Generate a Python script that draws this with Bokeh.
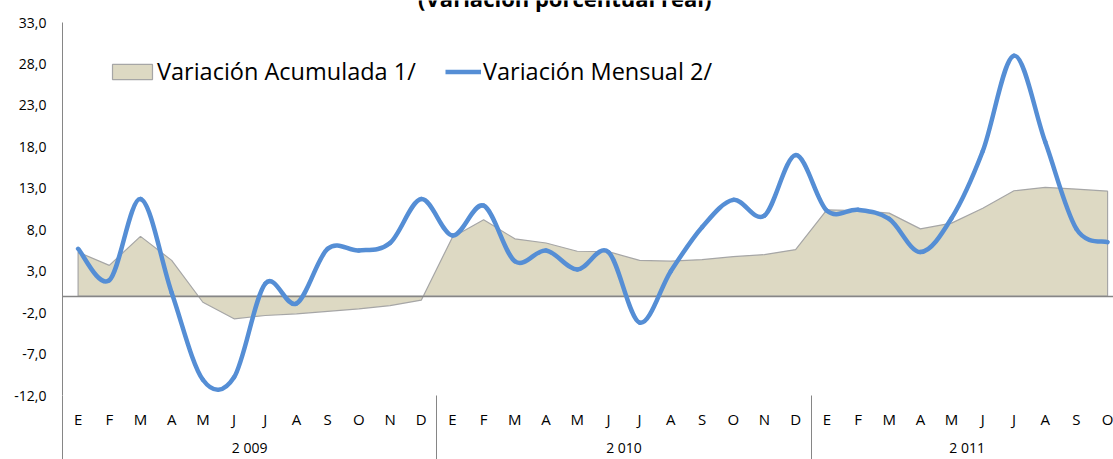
import numpy as np
from bokeh.plotting import figure
from bokeh.models import (Range1d, LinearAxis, FixedTicker, Legend, LegendItem, Label)
from bokeh.embed import file_html
from bokeh.resources import INLINE

title_text = "(Variación porcentual real)"
series_names = ["Variación Acumulada 1/", "Variación Mensual 2/"]
months = ["E", "F", "M", "A", "M", "J", "J", "A", "S", "O", "N", "D",
          "E", "F", "M", "A", "M", "J", "J", "A", "S", "O", "N", "D",
          "E", "F", "M", "A", "M", "J", "J", "A", "S", "O"]
years = ["2 009", "2 010", "2 011"]
months_per_year = [12, 12, 10]
acumulada = [5.3, 3.7, 7.2, 4.3, -0.75, -2.75, -2.35, -2.15, -1.85, -1.55, -1.15, -0.5,
             7.1, 9.2, 6.9, 6.4, 5.4, 5.35, 4.3, 4.2, 4.4, 4.75, 5.0, 5.6,
             10.4, 10.3, 10.0, 8.1, 8.8, 10.6, 12.7, 13.1, 12.9, 12.65]
mensual = [5.7, 1.9, 11.7, 0.4, -10.1, -9.8, 1.5, -0.9, 5.7, 5.5, 6.4, 11.7,
           7.3, 10.9, 4.2, 5.5, 3.2, 5.3, -3.2, 3.0, 8.3, 11.6, 9.7, 17.0,
           10.3, 10.4, 9.3, 5.3, 9.4, 17.5, 29.0, 18.6, 8.1, 6.5]
y_ticks = [-12, -7, -2, 3, 8, 13, 18, 23, 28, 33]

FONT = "Open Sans"
AXIS_GRAY = "#868686"
BLUE = "#558ED5"
TAN = "#DDD9C3"
OUTLINE = "#A6A6A6"

# layout (pixels): the frame runs up to the top of the canvas, the y axis from 33 to -12
H, W = 459, 1113
BOTTOM = 64
TOP_GAP = 22            # pixels between canvas top and the 33 level
px_per_unit = (H - BOTTOM - TOP_GAP) / (y_ticks[-1] - y_ticks[0])
y_top = y_ticks[-1] + TOP_GAP / px_per_unit

n = len(months)
x = np.arange(n, dtype=float)

p = figure(width=W, height=H, output_backend="svg", toolbar_location=None,
           x_range=Range1d(-0.5, 33.19), y_range=Range1d(y_ticks[0], y_top),
           x_axis_type=None, y_axis_type=None,
           min_border_left=62, min_border_right=0, min_border_top=0, min_border_bottom=BOTTOM)
p.outline_line_color = None
p.grid.visible = False
p.background_fill_color = "white"
p.border_fill_color = "white"

# y axis
yaxis = LinearAxis(ticker=FixedTicker(ticks=y_ticks, minor_ticks=[]),
                   bounds=(y_ticks[0], y_ticks[-1]))
yaxis.major_label_overrides = {v: f"{v:.1f}".replace(".", ",") for v in y_ticks}
yaxis.axis_line_color = AXIS_GRAY
yaxis.major_tick_line_color = None
yaxis.minor_tick_line_color = None
yaxis.major_tick_out = 0
yaxis.major_tick_in = 0
yaxis.major_label_standoff = 16
yaxis.major_label_text_font = FONT
yaxis.major_label_text_font_size = "14px"
yaxis.major_label_text_color = "black"
p.add_layout(yaxis, "left")

# year grouping (separators at year boundaries)
starts = np.concatenate([[0], np.cumsum(months_per_year)[:-1]])
centers = [float(s + (c - 1) / 2) for s, c in zip(starts, months_per_year)]
bounds = [float(s - 0.5) for s in starts]

# month axis, carrying the year separators as long minor ticks
month_axis = LinearAxis(ticker=FixedTicker(ticks=list(x), minor_ticks=bounds))
month_axis.major_label_overrides = {int(i): m for i, m in enumerate(months)}
month_axis.axis_line_color = None
month_axis.major_tick_line_color = None
month_axis.major_tick_out = 0
month_axis.major_tick_in = 0
month_axis.minor_tick_line_color = AXIS_GRAY
month_axis.minor_tick_line_width = 1
month_axis.minor_tick_in = 0
month_axis.minor_tick_out = 64
month_axis.major_label_standoff = -51
month_axis.major_label_text_font = FONT
month_axis.major_label_text_font_size = "15px"
month_axis.major_label_text_color = "black"
p.add_layout(month_axis, "below")

year_axis = LinearAxis(ticker=FixedTicker(ticks=centers, minor_ticks=[]))
year_axis.major_label_overrides = {c: y for c, y in zip(centers, years)}
year_axis.axis_line_color = None
year_axis.major_tick_line_color = None
year_axis.minor_tick_line_color = None
year_axis.major_tick_out = 0
year_axis.major_tick_in = 0
year_axis.major_label_standoff = 6
year_axis.major_label_text_font = FONT
year_axis.major_label_text_font_size = "14px"
year_axis.major_label_text_color = "black"
p.add_layout(year_axis, "below")

# area (accumulated)
area_xs = np.concatenate([[x[0]], x, [x[-1]]])
area_ys = np.concatenate([[0.0], np.array(acumulada), [0.0]])
area_r = p.patch(area_xs, area_ys, fill_color=TAN, line_color=OUTLINE, line_width=1.2)

# zero line
p.hspan(y=[0.0], line_color=AXIS_GRAY, line_width=1.3)

# smoothed monthly line (cubic Bezier through the points)
m = np.array(mensual, dtype=float)
prev_idx = np.concatenate([[0], np.arange(0, n - 2)])
next_idx = np.concatenate([np.arange(2, n), [n - 1]])
k = np.arange(n - 1)
cx0 = x[k] + (x[k + 1] - x[prev_idx]) / 6.0
cy0 = m[k] + (m[k + 1] - m[prev_idx]) / 6.0
cx1 = x[k + 1] - (x[next_idx] - x[k]) / 6.0
cy1 = m[k + 1] - (m[next_idx] - m[k]) / 6.0
p.bezier(x0=x[k], y0=m[k], x1=x[k + 1], y1=m[k + 1], cx0=cx0, cy0=cy0, cx1=cx1, cy1=cy1,
         line_color=BLUE, line_width=4.5, line_cap="round")
# one-point line (draws nothing itself) used as the legend key of the monthly series
line_key = p.line(x[:1], m[:1], line_color=BLUE, line_width=4.5, line_cap="butt")

leg1 = Legend(items=[LegendItem(label=series_names[0], renderers=[area_r])],
              location=(45, 308), orientation="horizontal", padding=0, margin=0,
              glyph_width=50, glyph_height=19, label_standoff=0,
              label_text_font=FONT, label_text_font_size="23.5px", label_text_color="black",
              border_line_color=None, background_fill_alpha=0)
leg2 = Legend(items=[LegendItem(label=series_names[1], renderers=[line_key])],
              location=(383, 308), orientation="horizontal", padding=0, margin=0,
              glyph_width=36, glyph_height=19, label_standoff=2,
              label_text_font=FONT, label_text_font_size="23.5px", label_text_color="black",
              border_line_color=None, background_fill_alpha=0)
p.add_layout(leg1)
p.add_layout(leg2)

# title: its upper part lies above the canvas, as in the original picture
title = Label(x=15.6, y=y_ticks[-1] + 25 / px_per_unit, text=title_text,
              text_align="center", text_baseline="alphabetic",
              text_font=FONT, text_font_style="bold", text_font_size="22px", text_color="black")
p.add_layout(title)

open("out.html", "w").write(file_html(p, INLINE))
